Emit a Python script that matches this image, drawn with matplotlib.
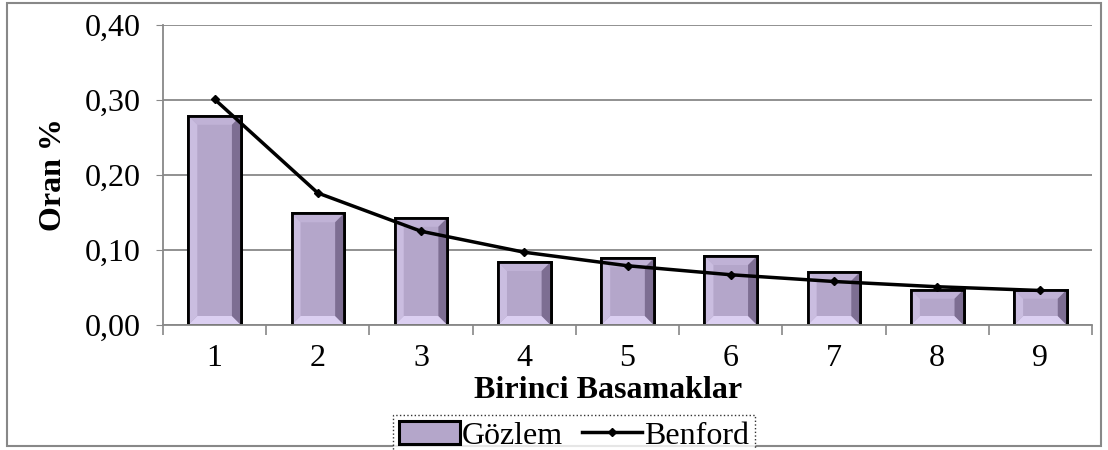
import numpy as np
import matplotlib.pyplot as plt
from matplotlib.patches import Polygon, Rectangle
from matplotlib.lines import Line2D

plt.rcParams['font.family'] = ['Liberation Serif', 'DejaVu Serif']

# data
digits = ['1', '2', '3', '4', '5', '6', '7', '8', '9']
gozlem = [0.279, 0.149, 0.143, 0.084, 0.089, 0.092, 0.071, 0.047, 0.047]
benford = [0.301, 0.176, 0.125, 0.097, 0.079, 0.067, 0.058, 0.051, 0.046]
yticks = [0.0, 0.1, 0.2, 0.3, 0.4]
ytick_labels = ['0,00', '0,10', '0,20', '0,30', '0,40']

fig = plt.figure(figsize=(11.08, 4.5), dpi=100)
ax = fig.add_axes([0.1471, 0.2778, 0.8385, 0.6666])

x = np.arange(1, len(digits) + 1)
width = 0.51
ax.set_xlim(0.5, len(digits) + 0.5)
ax.set_ylim(0, 0.4)

bars = ax.bar(x, gozlem, width=width, color='#b4a6ca', edgecolor='black',
              linewidth=2, zorder=2)

# bevel effect on the bars
fig.canvas.draw()
px_x = (ax.get_xlim()[1] - ax.get_xlim()[0]) / ax.get_window_extent().width
px_y = (ax.get_ylim()[1] - ax.get_ylim()[0]) / ax.get_window_extent().height
for b in bars:
    x0, y0 = b.get_x(), b.get_y()
    x1, y1 = x0 + b.get_width(), y0 + b.get_height()
    dx, dy = 9 * px_x, 9 * px_y
    ix0, ix1, iy0, iy1 = x0 + dx, x1 - dx, y0 + dy, y1 - dy
    faces = [
        ([(x0, y1), (x1, y1), (ix1, iy1), (ix0, iy1)], '#c0b2d6'),
        ([(x0, y0), (x1, y0), (ix1, iy0), (ix0, iy0)], '#dbcff1'),
        ([(x0, y0), (ix0, iy0), (ix0, iy1), (x0, y1)], '#cabde0'),
        ([(x1, y0), (ix1, iy0), (ix1, iy1), (x1, y1)], '#7d6e92'),
    ]
    for pts, c in faces:
        ax.add_patch(Polygon(pts, closed=True, facecolor=c, edgecolor='none', zorder=2.1))
    ax.add_patch(Rectangle((x0, y0), x1 - x0, y1 - y0, facecolor='none',
                           edgecolor='black', linewidth=2, zorder=2.2))

ax.plot(x, benford, color='black', linewidth=2.5, marker='D', markersize=4.5, zorder=3)

ax.set_yticks(yticks)
ax.set_yticklabels(ytick_labels, fontsize=23)
ax.set_xticks(x)
ax.set_xticklabels(digits, fontsize=23)
ax.tick_params(axis='x', length=0, pad=14)
ax.tick_params(axis='y', length=5, color='#888888', pad=11)
ax.set_xticks(np.arange(0.5, len(digits) + 1), minor=True)
ax.tick_params(axis='x', which='minor', length=7, color='#888888', width=1.2)
ax.grid(axis='y', color='#888888', linewidth=1.3, zorder=0)
ax.set_axisbelow(True)
for s in ['top', 'right']:
    ax.spines[s].set_visible(False)
for s in ['left', 'bottom']:
    ax.spines[s].set_color('#888888')
    ax.spines[s].set_linewidth(1.3)

ax.set_xlabel('Birinci Basamaklar', fontsize=23, fontweight='bold')
ax.xaxis.set_label_coords(0.479, -0.17)
ax.set_ylabel('Oran %', fontsize=23, fontweight='bold')
ax.yaxis.set_label_coords(-0.102, 0.503)

handles = [Rectangle((0, 0), 1, 1, facecolor='#b4a6ca', edgecolor='black', linewidth=2.2),
           Line2D([], [], color='black', linewidth=2.5, marker='D', markersize=4.5)]
leg = fig.legend(handles, ['Gözlem', 'Benford'], loc='upper center', bbox_to_anchor=(0.518, 0.078),
                 ncol=2, fontsize=23, frameon=True, fancybox=False, handlelength=1.9,
                 handletextpad=0.05, columnspacing=0.6, borderpad=0.2, borderaxespad=0)
leg.get_frame().set_edgecolor('black')
leg.get_frame().set_linestyle(':')
leg.get_frame().set_linewidth(1)

fig.patches.append(Rectangle((0.006, 0.008), 0.988, 0.986, transform=fig.transFigure,
                             fill=False, edgecolor='#888888', linewidth=1.5))

fig.savefig('out.png', dpi=100)
